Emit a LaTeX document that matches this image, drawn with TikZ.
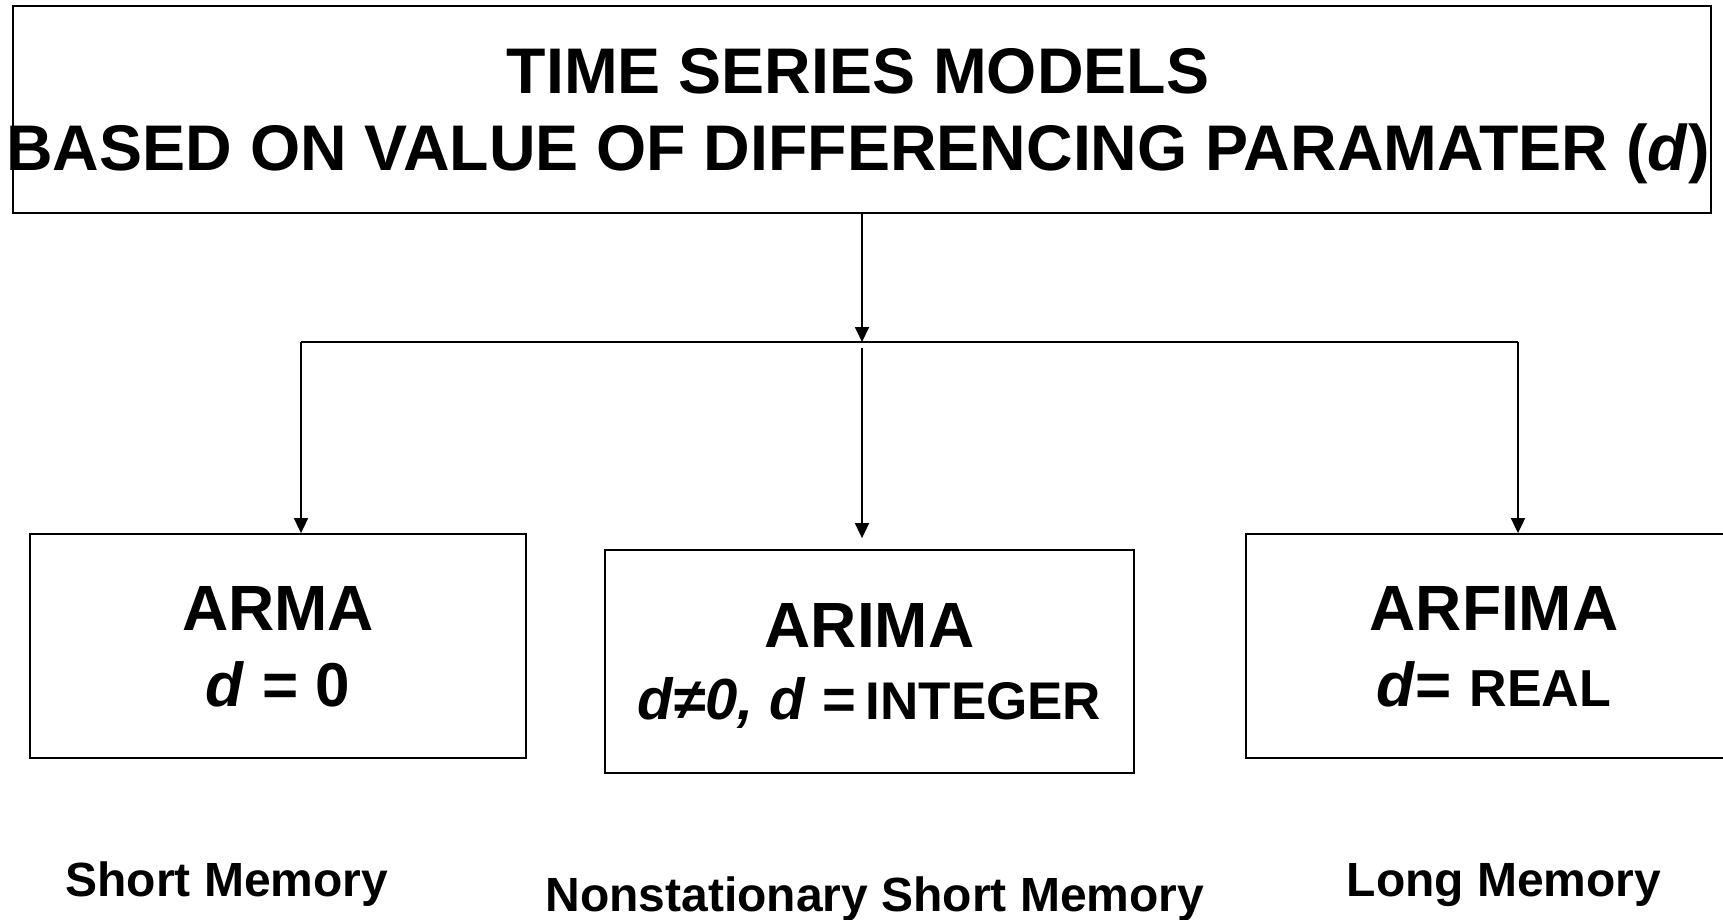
\documentclass[tikz,border=0pt]{standalone}
\usepackage{fontspec}
\setmainfont{Liberation Sans}
\usetikzlibrary{positioning, arrows.meta, calc}

\begin{document}
\begin{tikzpicture}[x=1pt, y=-1pt, line width=1.8pt,
    >={Triangle[length=15pt, width=14pt]},
    topbox/.style={draw, minimum width=1698pt, minimum height=207pt},
    modelbox/.style={draw, align=center, inner sep=0pt, minimum height=224pt,
      text depth=0pt, font=\fontsize{64}{76}\selectfont\bfseries},
    memo/.style={anchor=base, font=\fontsize{48}{56}\selectfont\bfseries}]
  \useasboundingbox (0,0) rectangle (1723,919);
  % top box and its title
  \node[topbox] (top) at (862,109.5) {};
  \node[align=center, font=\fontsize{64.5}{77}\selectfont\bfseries] (title) at (858,116)
    {TIME SERIES MODELS\\BASED ON VALUE OF DIFFERENCING PARAMATER (\textit{d})};
  % the three models
  \node[modelbox, minimum width=496pt] (arma) at (278,646)
    {ARMA\\{\fontsize{62}{76}\selectfont\textit{d} = 0}};
  \node[modelbox, minimum width=529pt, minimum height=223pt] (arima) at (869.5,661.5)
    {ARIMA\\[-4pt]{\fontsize{58}{72}\selectfont\textit{d≠0, d} =\,{\fontsize{53}{72}\selectfont INTEGER}}};
  \node[modelbox, minimum width=496pt] (arfima) at (1494,646)
    {ARFIMA\\{\fontsize{62}{76}\selectfont\textit{d}=} {\fontsize{52}{76}\selectfont REAL}};
  % memory labels
  \node[memo] (shortmem) at (227,896) {Short Memory};
  \node[memo] (nonstat) at (875,911) {Nonstationary Short Memory};
  \node[memo] (longmem) at (1504,896) {Long Memory};
  % connectors
  \coordinate (split) at (862,342);
  \coordinate (forkl) at (301,342);
  \coordinate (forkr) at (1518,342);
  \coordinate (gap) at (862,348);
  \draw[->] (top.south) -- (split);
  \draw (forkl) -- (forkr);
  \draw[->] (forkl) -- (forkl |- arma.north);
  \draw[->] (forkr) -- (forkr |- arfima.north);
  \draw[->, shorten >=11pt] (gap) -- (gap |- arima.north);
\end{tikzpicture}
\end{document}
